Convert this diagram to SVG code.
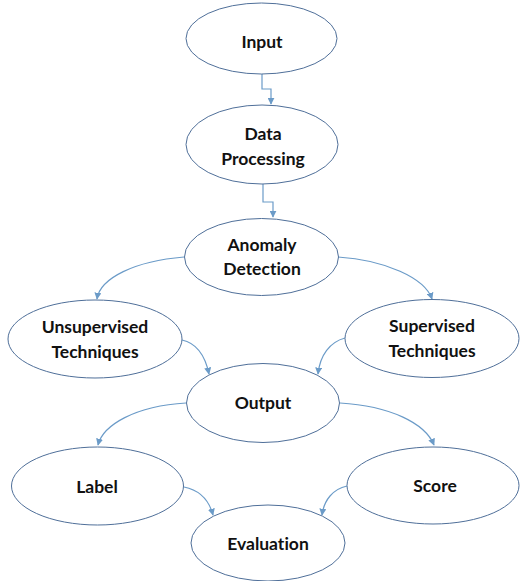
<svg xmlns="http://www.w3.org/2000/svg" width="520" height="581" viewBox="0 0 520 581">
<style>
.n{fill:#fff;stroke:#4f6f99;stroke-width:1}
.t{font-family:Lato,"Liberation Sans",Arial,sans-serif;font-weight:bold;font-size:17.5px;fill:#111;text-anchor:middle;font-variant-ligatures:none;font-feature-settings:"liga" 0,"clig" 0,"dlig" 0}
.c{fill:none;stroke:#6b9bc8;stroke-width:1.2}
</style>
<defs>
<marker id="a" viewBox="0 0 10 10" refX="9" refY="5" markerWidth="7" markerHeight="7" markerUnits="userSpaceOnUse" orient="auto">
<path d="M0,0 L10,5 L0,10 z" fill="#6b9bc8"/>
</marker>
</defs>
<rect width="520" height="581" fill="#fff"/>
<g id="connectors">
<path class="c" d="M262,74 V89 H271 V104" marker-end="url(#a)"/>
<path class="c" d="M263,184 V202 H273 V217" marker-end="url(#a)"/>
<path class="c" d="M184,257 C135,261 100,278 97,299" marker-end="url(#a)"/>
<path class="c" d="M338,257 C385,260 425,278 432,299" marker-end="url(#a)"/>
<path class="c" d="M182,340 C196,343 205,355 209,374" marker-end="url(#a)"/>
<path class="c" d="M345,338 C330,342 320,355 318,374" marker-end="url(#a)"/>
<path class="c" d="M186,403 C135,406 103,425 98,445" marker-end="url(#a)"/>
<path class="c" d="M340,403 C390,406 425,423 434,445" marker-end="url(#a)"/>
<path class="c" d="M184,487 C199,490 209,500 213,515" marker-end="url(#a)"/>
<path class="c" d="M347,486 C333,489 324,500 322,515" marker-end="url(#a)"/>
</g>
<g id="input"><ellipse class="n" cx="261.5" cy="38.5" rx="75.5" ry="35.5"/><text class="t" x="262" y="48">Input</text></g>
<g id="data-processing"><ellipse class="n" cx="262" cy="144.5" rx="76" ry="39.5"/><text class="t" x="263" y="140">Data</text><text class="t" x="263" y="165">Processing</text></g>
<g id="anomaly-detection"><ellipse class="n" cx="261.5" cy="257" rx="77" ry="38.5"/><text class="t" x="262" y="251">Anomaly</text><text class="t" x="262" y="275">Detection</text></g>
<g id="unsupervised"><ellipse class="n" cx="95" cy="339" rx="87" ry="39"/><text class="t" x="95" y="333">Unsupervised</text><text class="t" x="95" y="358">Techniques</text></g>
<g id="supervised"><ellipse class="n" cx="432" cy="338.5" rx="87" ry="39"/><text class="t" x="432" y="332">Supervised</text><text class="t" x="432" y="357">Techniques</text></g>
<g id="output"><ellipse class="n" cx="263" cy="403" rx="76.5" ry="39.5"/><text class="t" x="263" y="409">Output</text></g>
<g id="label"><ellipse class="n" cx="97.5" cy="486" rx="86" ry="39"/><text class="t" x="97" y="493">Label</text></g>
<g id="score"><ellipse class="n" cx="433" cy="485.5" rx="86" ry="38.5"/><text class="t" x="435" y="492">Score</text></g>
<g id="evaluation"><ellipse class="n" cx="268" cy="543" rx="77" ry="38"/><text class="t" x="268" y="550">Evaluation</text></g>
</svg>
